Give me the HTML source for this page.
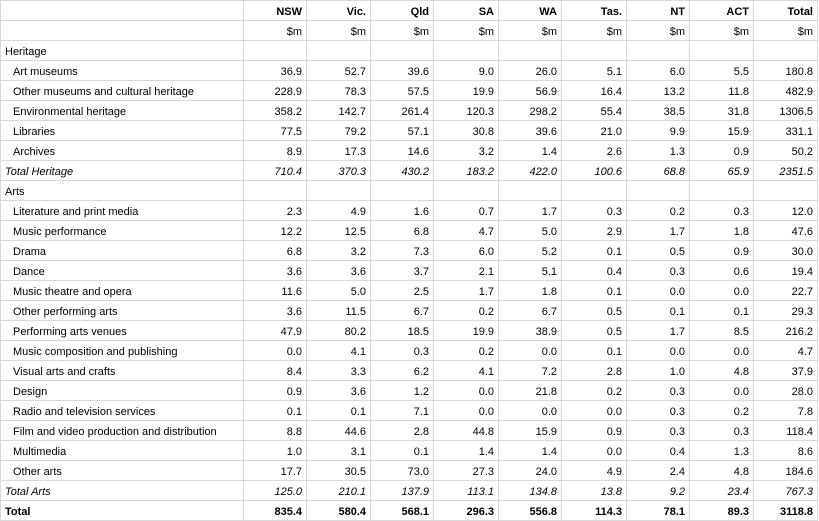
<!DOCTYPE html>
<html><head><meta charset="utf-8"><style>
html,body{margin:0;padding:0;background:#fff;width:819px;height:521px;overflow:hidden}
table{border-collapse:collapse;table-layout:fixed;font-family:"Liberation Sans",Arial,sans-serif;font-size:11px;color:#000}
td{height:16px;padding:3px 4px 0 4px;border:1px solid #d9d9d9;text-align:right;white-space:nowrap;overflow:hidden;line-height:16px;vertical-align:top}
td:first-child{text-align:left}
tr.h td{font-weight:bold}
td.in{padding-left:12px}
tr.i td{font-style:italic}
tr.t td{font-weight:bold}
</style></head><body>
<table>
<colgroup><col style="width:243px"><col style="width:63px"><col style="width:64px"><col style="width:63px"><col style="width:65px"><col style="width:63px"><col style="width:65px"><col style="width:63px"><col style="width:64px"><col style="width:64px"></colgroup>
<tr class="h"><td></td><td>NSW</td><td>Vic.</td><td>Qld</td><td>SA</td><td>WA</td><td>Tas.</td><td>NT</td><td>ACT</td><td>Total</td></tr>
<tr><td></td><td>$m</td><td>$m</td><td>$m</td><td>$m</td><td>$m</td><td>$m</td><td>$m</td><td>$m</td><td>$m</td></tr>
<tr><td>Heritage</td><td></td><td></td><td></td><td></td><td></td><td></td><td></td><td></td><td></td></tr>
<tr><td class="in">Art museums</td><td>36.9</td><td>52.7</td><td>39.6</td><td>9.0</td><td>26.0</td><td>5.1</td><td>6.0</td><td>5.5</td><td>180.8</td></tr>
<tr><td class="in">Other museums and cultural heritage</td><td>228.9</td><td>78.3</td><td>57.5</td><td>19.9</td><td>56.9</td><td>16.4</td><td>13.2</td><td>11.8</td><td>482.9</td></tr>
<tr><td class="in">Environmental heritage</td><td>358.2</td><td>142.7</td><td>261.4</td><td>120.3</td><td>298.2</td><td>55.4</td><td>38.5</td><td>31.8</td><td>1306.5</td></tr>
<tr><td class="in">Libraries</td><td>77.5</td><td>79.2</td><td>57.1</td><td>30.8</td><td>39.6</td><td>21.0</td><td>9.9</td><td>15.9</td><td>331.1</td></tr>
<tr><td class="in">Archives</td><td>8.9</td><td>17.3</td><td>14.6</td><td>3.2</td><td>1.4</td><td>2.6</td><td>1.3</td><td>0.9</td><td>50.2</td></tr>
<tr class="i"><td>Total Heritage</td><td>710.4</td><td>370.3</td><td>430.2</td><td>183.2</td><td>422.0</td><td>100.6</td><td>68.8</td><td>65.9</td><td>2351.5</td></tr>
<tr><td>Arts</td><td></td><td></td><td></td><td></td><td></td><td></td><td></td><td></td><td></td></tr>
<tr><td class="in">Literature and print media</td><td>2.3</td><td>4.9</td><td>1.6</td><td>0.7</td><td>1.7</td><td>0.3</td><td>0.2</td><td>0.3</td><td>12.0</td></tr>
<tr><td class="in">Music performance</td><td>12.2</td><td>12.5</td><td>6.8</td><td>4.7</td><td>5.0</td><td>2.9</td><td>1.7</td><td>1.8</td><td>47.6</td></tr>
<tr><td class="in">Drama</td><td>6.8</td><td>3.2</td><td>7.3</td><td>6.0</td><td>5.2</td><td>0.1</td><td>0.5</td><td>0.9</td><td>30.0</td></tr>
<tr><td class="in">Dance</td><td>3.6</td><td>3.6</td><td>3.7</td><td>2.1</td><td>5.1</td><td>0.4</td><td>0.3</td><td>0.6</td><td>19.4</td></tr>
<tr><td class="in">Music theatre and opera</td><td>11.6</td><td>5.0</td><td>2.5</td><td>1.7</td><td>1.8</td><td>0.1</td><td>0.0</td><td>0.0</td><td>22.7</td></tr>
<tr><td class="in">Other performing arts</td><td>3.6</td><td>11.5</td><td>6.7</td><td>0.2</td><td>6.7</td><td>0.5</td><td>0.1</td><td>0.1</td><td>29.3</td></tr>
<tr><td class="in">Performing arts venues</td><td>47.9</td><td>80.2</td><td>18.5</td><td>19.9</td><td>38.9</td><td>0.5</td><td>1.7</td><td>8.5</td><td>216.2</td></tr>
<tr><td class="in">Music composition and publishing</td><td>0.0</td><td>4.1</td><td>0.3</td><td>0.2</td><td>0.0</td><td>0.1</td><td>0.0</td><td>0.0</td><td>4.7</td></tr>
<tr><td class="in">Visual arts and crafts</td><td>8.4</td><td>3.3</td><td>6.2</td><td>4.1</td><td>7.2</td><td>2.8</td><td>1.0</td><td>4.8</td><td>37.9</td></tr>
<tr><td class="in">Design</td><td>0.9</td><td>3.6</td><td>1.2</td><td>0.0</td><td>21.8</td><td>0.2</td><td>0.3</td><td>0.0</td><td>28.0</td></tr>
<tr><td class="in">Radio and television services</td><td>0.1</td><td>0.1</td><td>7.1</td><td>0.0</td><td>0.0</td><td>0.0</td><td>0.3</td><td>0.2</td><td>7.8</td></tr>
<tr><td class="in">Film and video production and distribution</td><td>8.8</td><td>44.6</td><td>2.8</td><td>44.8</td><td>15.9</td><td>0.9</td><td>0.3</td><td>0.3</td><td>118.4</td></tr>
<tr><td class="in">Multimedia</td><td>1.0</td><td>3.1</td><td>0.1</td><td>1.4</td><td>1.4</td><td>0.0</td><td>0.4</td><td>1.3</td><td>8.6</td></tr>
<tr><td class="in">Other arts</td><td>17.7</td><td>30.5</td><td>73.0</td><td>27.3</td><td>24.0</td><td>4.9</td><td>2.4</td><td>4.8</td><td>184.6</td></tr>
<tr class="i"><td>Total Arts</td><td>125.0</td><td>210.1</td><td>137.9</td><td>113.1</td><td>134.8</td><td>13.8</td><td>9.2</td><td>23.4</td><td>767.3</td></tr>
<tr class="t"><td>Total</td><td>835.4</td><td>580.4</td><td>568.1</td><td>296.3</td><td>556.8</td><td>114.3</td><td>78.1</td><td>89.3</td><td>3118.8</td></tr>
</table>
</body></html>
